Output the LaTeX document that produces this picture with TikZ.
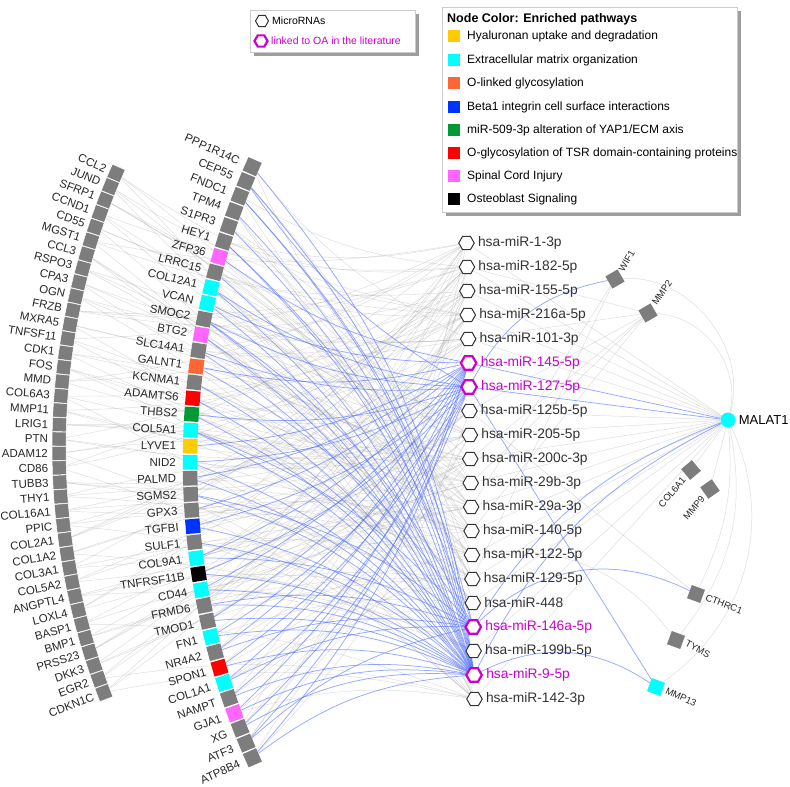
\documentclass[tikz,border=0pt]{standalone}
\usepackage{fontspec}
\setmainfont{Liberation Sans}
\usetikzlibrary{positioning,shapes.geometric,shadows}
\pgfdeclarelayer{edges}
\pgfsetlayers{edges,main}
\definecolor{genegray}{RGB}{125,125,125}
\definecolor{ecmcyan}{RGB}{0,255,255}
\definecolor{hyalyellow}{RGB}{255,204,0}
\definecolor{olinkorange}{RGB}{255,102,51}
\definecolor{betablue}{RGB}{0,51,255}
\definecolor{yapgreen}{RGB}{0,153,51}
\definecolor{tsrred}{RGB}{255,0,0}
\definecolor{spinalpink}{RGB}{255,102,255}
\definecolor{oamag}{RGB}{204,0,204}
\definecolor{edgeblue}{RGB}{80,110,255}
\tikzset{
  genebox/.style={rectangle,fill=genegray,draw=white,line width=.5pt,minimum size=14pt,inner sep=0pt},
  genename/.style={font=\fontsize{11.5}{12}\selectfont,text=black!85,inner sep=0pt},
  mirna/.style={regular polygon,regular polygon sides=6,fill=white,minimum size=15.5pt,inner sep=0pt},
  mirname/.style={font=\fontsize{13.8}{14}\selectfont,inner sep=1pt},
  grayedge/.style={draw=black!40,line width=.5pt,opacity=.32},
  blueedge/.style={draw=edgeblue,line width=.75pt,opacity=.6},
  sidegene/.style={rectangle,fill=genegray,minimum size=14pt,inner sep=0pt},
  sidename/.style={font=\fontsize{9.5}{10}\selectfont,text=black!85,inner sep=0pt},
  legendbox/.style={rectangle,draw=black!20,fill=white,anchor=north west,inner sep=0pt,
    drop shadow={shadow xshift=3.5pt,shadow yshift=-3.5pt,fill=black!55,opacity=.7}},
  keybox/.style={rectangle,minimum size=12pt,inner sep=0pt},
  keyname/.style={font=\fontsize{12}{13}\selectfont,anchor=west,inner sep=1pt}
}
\begin{document}
\begin{tikzpicture}[x=1pt,y=1pt]
\useasboundingbox (0,0) rectangle (790,-787);
% outer ring of genes
\foreach \n [count=\i] in {CCL2,JUND,SFRP1,CCND1,CD55,MGST1,CCL3,RSPO3,CPA3,OGN,FRZB,MXRA5,TNFSF11,CDK1,FOS,MMD,COL6A3,MMP11,LRIG1,PTN,ADAM12,CD86,TUBB3,THY1,COL16A1,PPIC,COL2A1,COL1A2,COL3A1,COL5A2,ANGPTL4,LOXL4,BASP1,BMP1,PRSS23,DKK3,EGR2,CDKN1C}{
  \pgfmathsetmacro\ang{156.55+1.195*(\i-1)}
  \node[genebox,rotate=\ang] (o\i) at ([shift={(\ang:690)}]749,-448) {};
  \node[genename,anchor=east,rotate=\ang-180] (on\i) at ([shift={(\ang:701)}]749,-448) {\n};
}
% inner ring of genes, coloured by pathway
\foreach \n/\c [count=\i] in {PPP1R14C/genegray,CEP55/genegray,FNDC1/genegray,TPM4/genegray,S1PR3/genegray,HEY1/genegray,ZFP36/spinalpink,LRRC15/genegray,COL12A1/ecmcyan,VCAN/ecmcyan,SMOC2/genegray,BTG2/spinalpink,SLC14A1/genegray,GALNT1/olinkorange,KCNMA1/genegray,ADAMTS6/tsrred,THBS2/yapgreen,COL5A1/ecmcyan,LYVE1/hyalyellow,NID2/ecmcyan,PALMD/genegray,SGMS2/genegray,GPX3/genegray,TGFBI/betablue,SULF1/genegray,COL9A1/ecmcyan,TNFRSF11B/black,CD44/ecmcyan,FRMD6/genegray,TMOD1/genegray,FN1/ecmcyan,NR4A2/genegray,SPON1/tsrred,COL1A1/ecmcyan,NAMPT/genegray,GJA1/spinalpink,XG/genegray,ATF3/genegray,ATP8B4/genegray}{
  \pgfmathsetmacro\ang{156.24+1.2516*(\i-1)}
  \node[genebox,draw=none,minimum size=14.5pt,fill=\c,rotate=\ang] (i\i) at ([shift={(\ang:733)}]923,-462) {};
  \node[genename,anchor=east,rotate=\ang-180] (in\i) at ([shift={(\ang:747)}]923,-462) {\n};
}
% microRNAs
\foreach \n/\c/\w [count=\i] in {hsa-miR-1-3p/black!80/1pt,hsa-miR-182-5p/black!80/1pt,hsa-miR-155-5p/black!80/1pt,hsa-miR-216a-5p/black!80/1pt,hsa-miR-101-3p/black!80/1pt,hsa-miR-145-5p/oamag/2.2pt,hsa-miR-127-5p/oamag/2.2pt,hsa-miR-125b-5p/black!80/1pt,hsa-miR-205-5p/black!80/1pt,hsa-miR-200c-3p/black!80/1pt,hsa-miR-29b-3p/black!80/1pt,hsa-miR-29a-3p/black!80/1pt,hsa-miR-140-5p/black!80/1pt,hsa-miR-122-5p/black!80/1pt,hsa-miR-129-5p/black!80/1pt,hsa-miR-448/black!80/1pt,hsa-miR-146a-5p/oamag/2.2pt,hsa-miR-199b-5p/black!80/1pt,hsa-miR-9-5p/oamag/2.2pt,hsa-miR-142-3p/black!80/1pt}{
  \node[mirna,draw=\c,line width=\w] (m\i) at ({466.5+0.42*(\i-1)},{-243-24*(\i-1)}) {};
  \node[mirname,text=\c,right=2pt of m\i] (mn\i) {\n};
}
% genes on the right
\node[sidegene,rotate=30] (wif1) at (615,-279) {};
\node[sidename,rotate=60,anchor=west] (wif1n) at (621,-271) {WIF1};
\node[sidegene,rotate=30] (mmp2) at (648,-313) {};
\node[sidename,rotate=55,anchor=west] (mmp2n) at (654,-304) {MMP2};
\node[sidegene,rotate=40] (col6a1) at (691,-470) {};
\node[sidename,rotate=50,anchor=east] (col6a1n) at (684,-478) {COL6A1};
\node[sidegene,rotate=35] (mmp9) at (710,-489) {};
\node[sidename,rotate=50,anchor=east] (mmp9n) at (703,-497) {MMP9};
\node[sidegene,rotate=-20] (cthrc1) at (696,-594) {};
\node[sidename,rotate=-22,anchor=west] (cthrc1n) at (706,-597) {CTHRC1};
\node[sidegene,rotate=-20] (tyms) at (676,-640) {};
\node[sidename,rotate=-28,anchor=west] (tymsn) at (686,-643) {TYMS};
\node[sidegene,fill=ecmcyan,rotate=-20] (mmp13) at (656,-687) {};
\node[sidename,rotate=-25,anchor=west] (mmp13n) at (666,-690) {MMP13};
\node[circle,fill=ecmcyan,minimum size=15pt,inner sep=0pt] (malat) at (728,-420) {};
\node[font=\fontsize{13}{14}\selectfont,inner sep=1pt,right=2pt of malat] (malatn) {MALAT1};
% connectors
\begin{pgfonlayer}{edges}
\foreach \i in {1,...,38}{
  \pgfmathtruncatemacro\ka{mod(3*\i,16)}
  \pgfmathtruncatemacro\kb{mod(7*\i+5,16)}
  \pgfmathtruncatemacro\kc{mod(13*\i+2,16)}
  \pgfmathtruncatemacro\ta{{1,2,3,4,5,8,9,10,11,12,13,14,15,16,18,20}[\ka]}
  \pgfmathtruncatemacro\tb{{1,2,3,4,5,8,9,10,11,12,13,14,15,16,18,20}[\kb]}
  \pgfmathtruncatemacro\tc{{1,2,3,4,5,8,9,10,11,12,13,14,15,16,18,20}[\kc]}
  \pgfmathsetmacro\ba{\ta<11 ? -12 : 12}
  \pgfmathsetmacro\bb{\tb<11 ? -12 : 12}
  \pgfmathsetmacro\bc{\tc<11 ? -10 : 10}
  \draw[grayedge] (o\i) to[bend left=\ba] (m\ta);
  \draw[grayedge] (o\i) to[bend left=\bb] (m\tb);
  \draw[grayedge] (o\i) to[bend left=\bc] (m\tc);
}
\foreach \i in {1,...,39}{
  \pgfmathtruncatemacro\ka{mod(5*\i+2,16)}
  \pgfmathtruncatemacro\kb{mod(9*\i+11,16)}
  \pgfmathtruncatemacro\ta{{1,2,3,4,5,8,9,10,11,12,13,14,15,16,18,20}[\ka]}
  \pgfmathtruncatemacro\tb{{1,2,3,4,5,8,9,10,11,12,13,14,15,16,18,20}[\kb]}
  \pgfmathsetmacro\ba{\ta<11 ? -12 : 12}
  \pgfmathsetmacro\bb{\tb<11 ? -12 : 12}
  \draw[grayedge] (i\i) to[bend left=\ba] (m\ta);
  \draw[grayedge] (i\i) to[bend left=\bb] (m\tb);
}
\foreach \g in {1,2,3,4,5,6,8,9,10,11,12,13,15,16,17,18,20,21,22,24,25,27,28,29,30,31,33,35,36,37,39}
  \draw[blueedge] (i\g) to[bend left=16] (m19);
\foreach \g in {3,6,11,14,18,22,26,29,32,34,38}
  \draw[blueedge] (i\g) to[bend left=14] (m17);
\foreach \g in {7,10,14,19,21,23,26,28,30,32,34,36,38,39}
  \draw[blueedge] (i\g) to[bend right=12] (m6);
\foreach \g in {2,9,11,13,17,20,24,27,31,33,35,37}
  \draw[blueedge] (i\g) to[bend right=12] (m7);
\foreach \k in {1,2,3,4,5,8,9,10,11,12,13,14,15,16,18,20}
  \draw[grayedge] (malat) -- (m\k);
\draw[blueedge] (malat) -- (m6);
\draw[blueedge] (malat) -- (m7);
\draw[blueedge] (malat) to[bend right=18] (m17);
\draw[blueedge] (malat) to[bend right=18] (m19);
\draw[blueedge] (wif1) to[bend right=25] (m7);
\draw[grayedge] (wif1) -- (m12);
\draw[grayedge] (wif1) -- (m15);
\draw[grayedge] (wif1) to[bend left=55] (malat);
\foreach \k in {2,5,8,10,11,13}
  \draw[grayedge] (mmp2) -- (m\k);
\draw[grayedge] (mmp2) to[bend left=50] (malat);
\draw[grayedge] (col6a1) -- (malat);
\draw[grayedge] (mmp9) -- (malat);
\draw[blueedge] (cthrc1) to[bend right=35] (m17);
\draw[grayedge] (cthrc1) -- (m8);
\draw[grayedge] (cthrc1) to[bend right=15] (malat);
\draw[grayedge] (tyms) to[bend right=30] (m14);
\draw[grayedge] (tyms) to[bend right=25] (malat);
\draw[blueedge] (mmp13) -- (m7);
\draw[blueedge] (mmp13) to[bend right=30] (m19);
\draw[grayedge] (mmp13) to[bend right=40] (malat);
\end{pgfonlayer}
% legend for the microRNAs
\node[legendbox,minimum width=165pt,minimum height=42pt] (keyleft) at (250,-10) {};
\node[mirna,draw=black!80,line width=1pt,minimum size=13pt] (keymir) at (262,-21) {};
\node[font=\fontsize{10.5}{11}\selectfont,anchor=west,inner sep=1pt] (keymirn) at (271,-21) {MicroRNAs};
\node[mirna,draw=oamag,line width=2.2pt,minimum size=13pt] (keyoa) at (261,-41) {};
\node[font=\fontsize{10.5}{11}\selectfont,anchor=west,inner sep=1pt,text=oamag] (keyoan) at (270,-41) {linked to OA in the literature};
% legend for the pathways
\node[legendbox,minimum width=295pt,minimum height=205pt] (keyright) at (442,-7) {};
\node[keyname,font=\fontsize{12.5}{13}\selectfont\bfseries] (keytitle) at (446,-19) {Node Color: Enriched pathways};
\foreach \t/\c/\y [count=\i] in {{Hyaluronan uptake and degradation}/hyalyellow/36,{Extracellular matrix organization}/ecmcyan/60,{O-linked glycosylation}/olinkorange/83,{Beta1 integrin cell surface interactions}/betablue/107,{miR-509-3p alteration of YAP1/ECM axis}/yapgreen/130,{O-glycosylation of TSR domain-containing proteins}/tsrred/153,{Spinal Cord Injury}/spinalpink/176,{Osteoblast Signaling}/black/199}{
  \node[keybox,fill=\c] (key\i) at (454,-\y) {};
  \node[keyname] (keyn\i) at (466,-\y) {\t};
}
\end{tikzpicture}
\end{document}
